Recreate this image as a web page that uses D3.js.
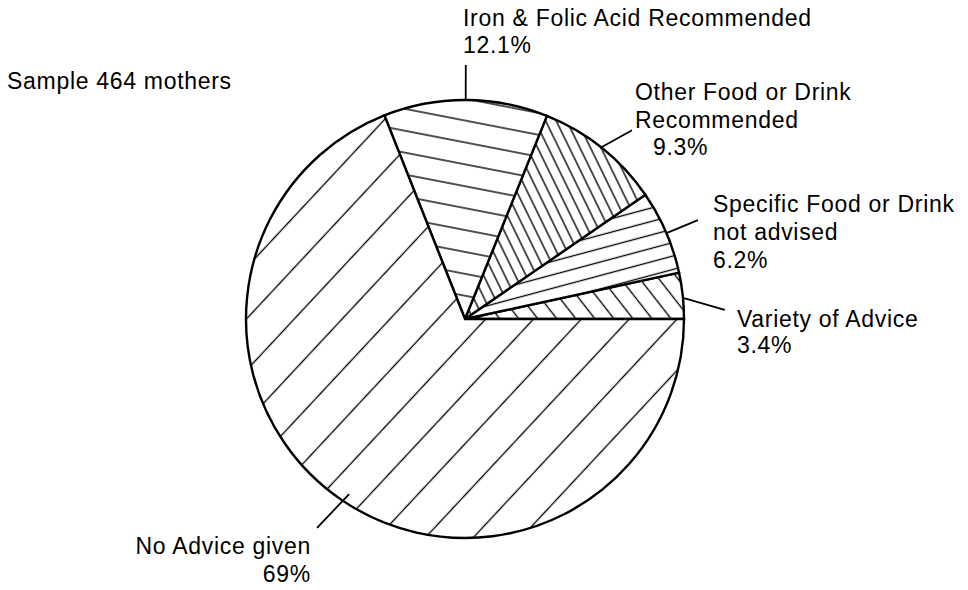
<!DOCTYPE html>
<html>
<head>
<meta charset="utf-8">
<script src="https://cdn.jsdelivr.net/npm/d3@7"></script>
<style>
  html, body { margin: 0; padding: 0; background: #fff; }
  svg { display: block; }
  text {
    font-family: "Liberation Sans", Arial, Helvetica, sans-serif;
    font-size: 23px;
    letter-spacing: 0.7px;
    fill: #000;
  }
</style>
</head>
<body>
<svg id="chart" width="968" height="590"></svg>
<script>
// Advice given to mothers (share of sample, %), in drawing order
// counter-clockwise from the 3 o'clock position.
const categories = [
  "Variety of Advice",
  "Specific Food or Drink\nnot advised",
  "Other Food or Drink\nRecommended",
  "Iron & Folic Acid Recommended",
  "No Advice given"
];
const shares = [3.4, 6.2, 9.3, 12.1, 69];
const sampleNote = "Sample 464 mothers";

// ---- layout & styling ----
const width = 968, height = 590;
const cx = 465, cy = 319, radius = 219;

// hatch line angle (deg, screen space) and perpendicular gap per slice
const hatchStyle = [
  { angle: 52,  gap: 15 },
  { angle: -15, gap: 13 },
  { angle: 64,  gap: 9.5 },
  { angle: 11,  gap: 21.5 },
  { angle: -47, gap: 35 }
];

// label blocks: anchor point of first baseline, line step, optional pct offset
const labelLayout = [
  { x: 737, y: 327, step: 26, anchor: "start", pctDx: 0 },
  { x: 713, y: 212, step: 28, anchor: "start", pctDx: 0 },
  { x: 635, y: 100, step: 27.5, anchor: "start", pctDx: 18 },
  { x: 463, y: 26,  step: 27, anchor: "start", pctDx: 0 },
  { x: 311, y: 554, step: 28, anchor: "end",   pctDx: 0 }
];

// leader lines: radius range and angular drift (deg) from slice mid-angle
const leaderLayout = [
  { r0: 219, r1: 260, a0: 0.6, a1: 4.1 },
  { r0: 219, r1: 253, a0: 0.3, a1: 0.4 },
  { r0: 218, r1: 252, a0: -0.4, a1: 2.8 },
  { r0: 219, r1: 254, a0: 0, a1: 0 },
  { r0: 210, r1: 256, a0: -0.7, a1: 1.1 }
];

const svg = d3.select("#chart");
svg.append("rect").attr("width", width).attr("height", height).attr("fill", "#fff");

// hatch patterns
const defs = svg.append("defs");
hatchStyle.forEach((h, i) => {
  const p = defs.append("pattern")
    .attr("id", "hatch" + i)
    .attr("patternUnits", "userSpaceOnUse")
    .attr("width", 20)
    .attr("height", h.gap)
    .attr("patternTransform", `translate(${cx},${cy}) rotate(${h.angle})`);
  p.append("rect").attr("width", 20).attr("height", h.gap).attr("fill", "#fff");
  p.append("line")
    .attr("x1", -2).attr("x2", 22)
    .attr("y1", h.gap / 2).attr("y2", h.gap / 2)
    .attr("stroke", "#000")
    .attr("stroke-width", 1.35);
});

// pie, running counter-clockwise from east
const pie = d3.pie()
  .value(d => d)
  .sort(null)
  .startAngle(Math.PI / 2)
  .endAngle(Math.PI / 2 - 2 * Math.PI);
const arcs = pie(shares);

const arcGen = d3.arc().innerRadius(0).outerRadius(radius);

const g = svg.append("g").attr("transform", `translate(${cx},${cy})`);

g.selectAll("path.slice")
  .data(arcs)
  .join("path")
  .attr("class", "slice")
  .attr("d", arcGen)
  .attr("fill", (d, i) => `url(#hatch${i})`)
  .attr("stroke", "#000")
  .attr("stroke-width", 2.4)
  .attr("stroke-linejoin", "miter");

// leader lines from slice edges to labels
const polar = (a, r) => [r * Math.sin(a), -r * Math.cos(a)];
const rad = Math.PI / 180;
g.selectAll("line.leader")
  .data(arcs)
  .join("line")
  .attr("class", "leader")
  .each(function (d, i) {
    const mid = (d.startAngle + d.endAngle) / 2;
    const L = leaderLayout[i];
    const [x1, y1] = polar(mid + L.a0 * rad, L.r0);
    const [x2, y2] = polar(mid + L.a1 * rad, L.r1);
    d3.select(this)
      .attr("x1", x1).attr("y1", y1)
      .attr("x2", x2).attr("y2", y2);
  })
  .attr("stroke", "#000")
  .attr("stroke-width", 1.8);

// category labels with percentages
const fmtPct = v => `${v}%`;
arcs.forEach((d, i) => {
  const L = labelLayout[i];
  const lines = categories[i].split("\n");
  const t = svg.append("text")
    .attr("text-anchor", L.anchor);
  lines.forEach((line, k) => {
    t.append("tspan")
      .attr("x", L.x)
      .attr("y", L.y + k * L.step)
      .text(line);
  });
  t.append("tspan")
    .attr("x", L.x + L.pctDx)
    .attr("y", L.y + lines.length * L.step)
    .text(fmtPct(d.data));
});

// sample size note
svg.append("text")
  .attr("x", 7)
  .attr("y", 89)
  .text(sampleNote);
</script>
</body>
</html>
